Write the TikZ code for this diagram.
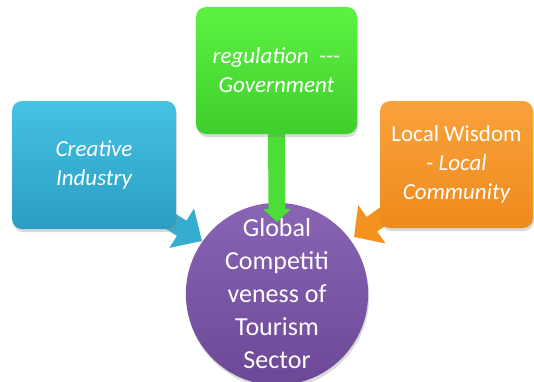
\documentclass[tikz,border=0pt]{standalone}
\usepackage{fontspec}
\setmainfont{Carlito}[Ligatures=TeXOff]
\usetikzlibrary{arrows.meta,shadows,calc}

\definecolor{blueTop}{HTML}{46C2E3}
\definecolor{blueBot}{HTML}{2A9DC2}
\definecolor{blueArr}{HTML}{36ADD0}
\definecolor{greenTop}{HTML}{5CF242}
\definecolor{greenBot}{HTML}{40CE2C}
\definecolor{greenArr}{HTML}{4BDE36}
\definecolor{orangeTop}{HTML}{FAA23C}
\definecolor{orangeBot}{HTML}{EE8A1C}
\definecolor{orangeArr}{HTML}{F4921F}
\definecolor{purpleTop}{HTML}{8A64B5}
\definecolor{purpleBot}{HTML}{6C4896}

\begin{document}
\begin{tikzpicture}[x=1pt,y=1pt,
  panel/.style={rounded corners=10pt, align=center, text=white,
    inner sep=0pt, font=\fontsize{23}{29}\selectfont,
    drop shadow={shadow xshift=1pt, shadow yshift=-3pt, opacity=0.3}},
  hub/.style={circle, minimum size=170pt, inner sep=0pt, align=center,
    text=white, font=\fontsize{26}{33}\selectfont,
    top color=purpleTop, bottom color=purpleBot,
    drop shadow={shadow xshift=1pt, shadow yshift=-3pt, opacity=0.3}},
  feed/.style={line width=#1, line cap=butt}
]
\useasboundingbox (0,0) rectangle (534,381);

% central hub
\node[hub] (hub) at (277,87)
  {Global\\Competiti\\veness of\\Tourism\\Sector};

% arrow tips pointing at the hub
\coordinate (bt) at (202,140);
\coordinate (gt) at (277,159);
\coordinate (ot) at (354,144);

% feeding boxes (positions only; drawn after the arrows below)
\path (94,216) coordinate (bc) (276.5,310.5) coordinate (gc) (456.5,216.5) coordinate (oc);

% arrows from each box into the hub
\draw[feed=18pt, blueArr, -{Triangle[width=45pt,length=24pt]}]
  ($(bc)+(57,-44)$) -- (bt);
\draw[feed=18pt, orangeArr, -{Triangle[width=46pt,length=22pt]}]
  ($(oc)+(-54,-38)$) -- (ot);
\draw[feed=17pt, greenArr, -{Triangle[width=27pt,length=13pt]}]
  ($(gc)+(0,-50)$) -- (gt);

% the three boxes
\node[panel, minimum width=164pt, minimum height=128pt,
      top color=blueTop, bottom color=blueBot] (blue) at (bc)
  {\itshape Creative\\\itshape Industry};
\node[panel, minimum width=161pt, minimum height=127pt,
      top color=greenTop, bottom color=greenBot] (green) at (gc)
  {\itshape regulation\ \ ---\\\itshape Government};
\node[panel, minimum width=153pt, minimum height=127pt,
      top color=orangeTop, bottom color=orangeBot] (orange) at (oc)
  {Local Wisdom\\- \itshape Local\\\itshape Community};
\end{tikzpicture}
\end{document}
